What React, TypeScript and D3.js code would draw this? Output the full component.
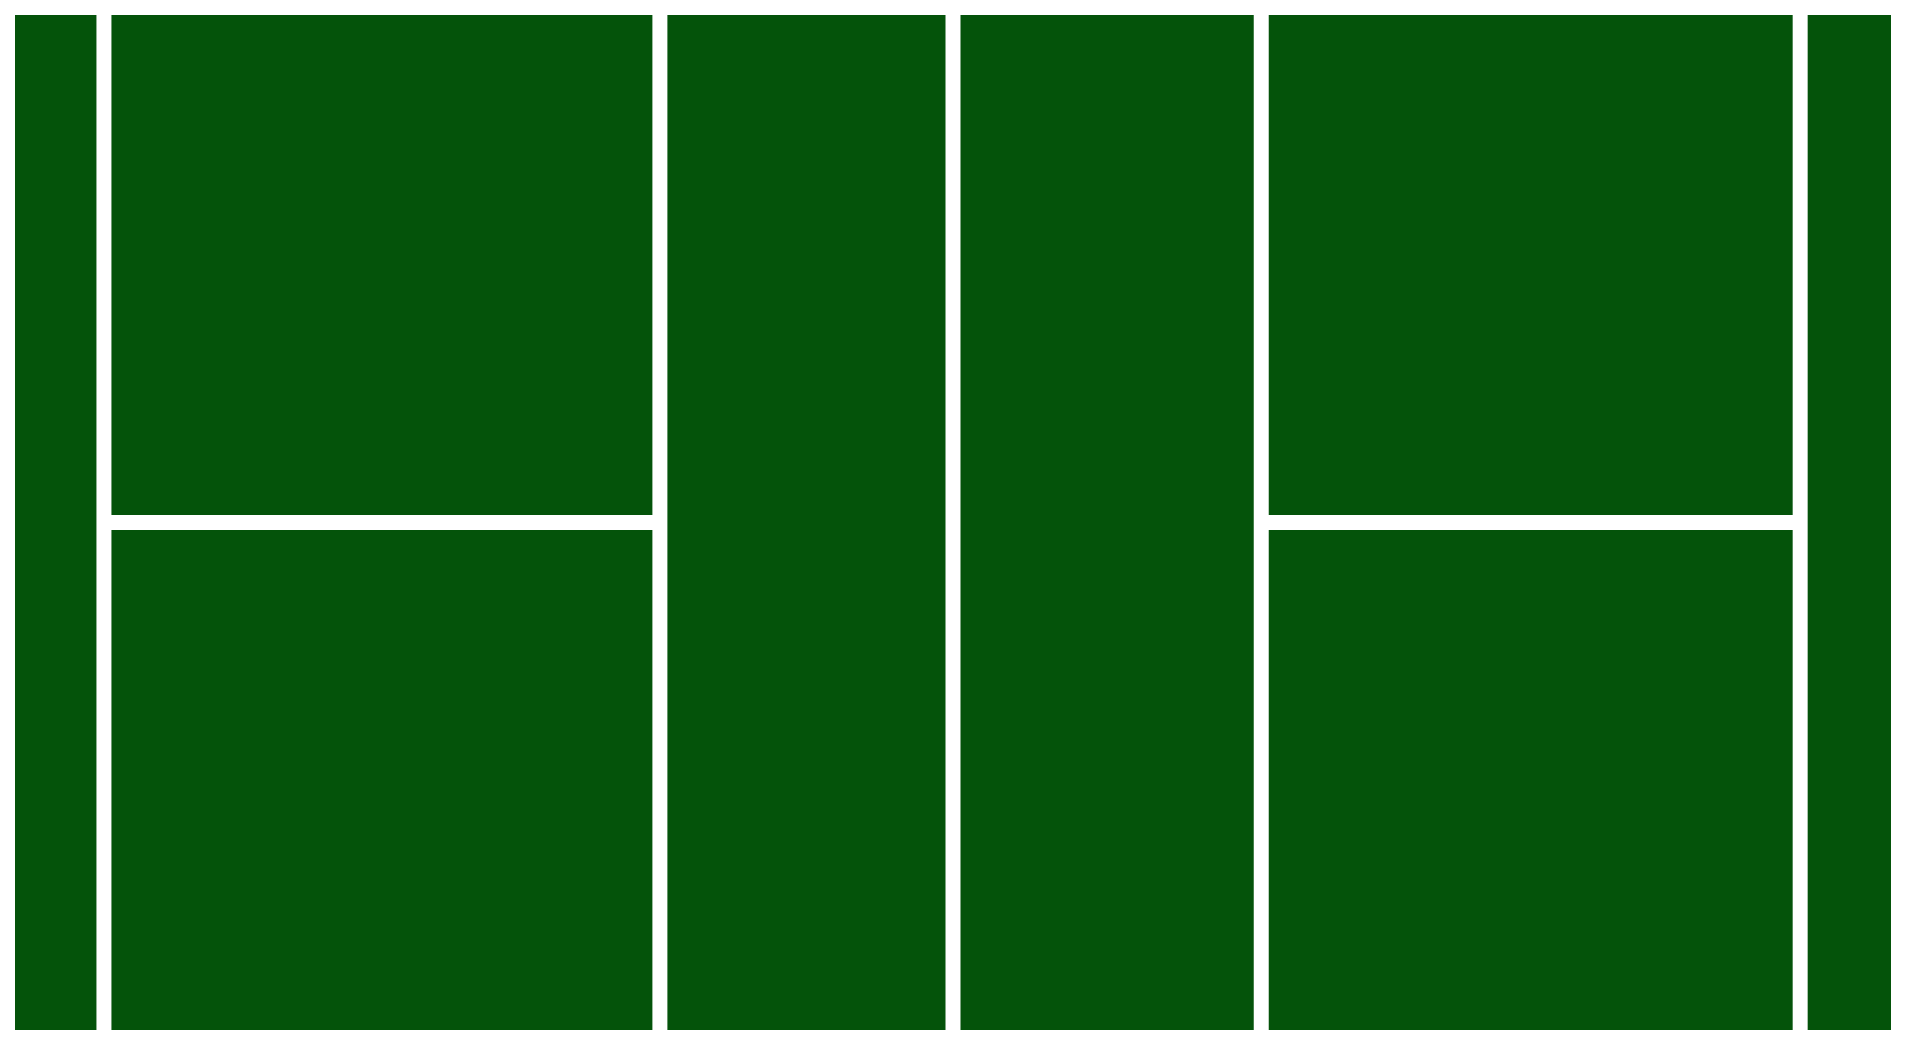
import React, { useEffect, useRef } from 'react';
import * as d3 from 'd3';

// columns of the treemap, each with its leaf values
const groups = ['A', 'B', 'C', 'D', 'E', 'F'];
const leafValues = [[5.1], [14.7, 14.7], [15.5], [16.3], [14.25, 14.25], [5.2]];

const App = () => {
  const svgRef = useRef<SVGSVGElement>(null);

  useEffect(() => {
    const width = 1891;
    const height = 1030;

    d3.select(svgRef.current).selectAll('*').remove();

    const svg = d3.select(svgRef.current)
      .attr('width', width)
      .attr('height', height)
      .style('display', 'block');

    const data = {
      name: 'root',
      children: groups.map((g, i) => ({
        name: g,
        children: leafValues[i].map((v, j) => ({ name: `${g}${j}`, value: v })),
      })),
    };

    const root = d3.hierarchy<any>(data)
      .sum((d) => d.value || 0);

    // columns side by side, leaves stacked inside each column
    const tile = (node: any, x0: number, y0: number, x1: number, y1: number) => {
      if (node.depth === 0) d3.treemapDice(node, x0, y0, x1, y1);
      else d3.treemapSlice(node, x0, y0, x1, y1);
    };

    // outer padding only around the whole map, not around each column
    d3.treemap<any>()
      .size([width, height])
      .tile(tile)
      .paddingInner(15)
      .paddingTop((d: any) => (d.depth === 0 ? 7 : 0))
      .paddingLeft((d: any) => (d.depth === 0 ? 7 : 0))
      .paddingRight((d: any) => (d.depth === 0 ? 8 : 0))
      .paddingBottom((d: any) => (d.depth === 0 ? 8 : 0))(root);

    svg.append('g')
      .selectAll('rect')
      .data(root.leaves())
      .join('rect')
      .attr('x', (d: any) => d.x0)
      .attr('y', (d: any) => d.y0)
      .attr('width', (d: any) => d.x1 - d.x0)
      .attr('height', (d: any) => d.y1 - d.y0)
      .attr('fill', '#04530a');
  }, []);

  return <svg ref={svgRef}></svg>;
};

export default App;
